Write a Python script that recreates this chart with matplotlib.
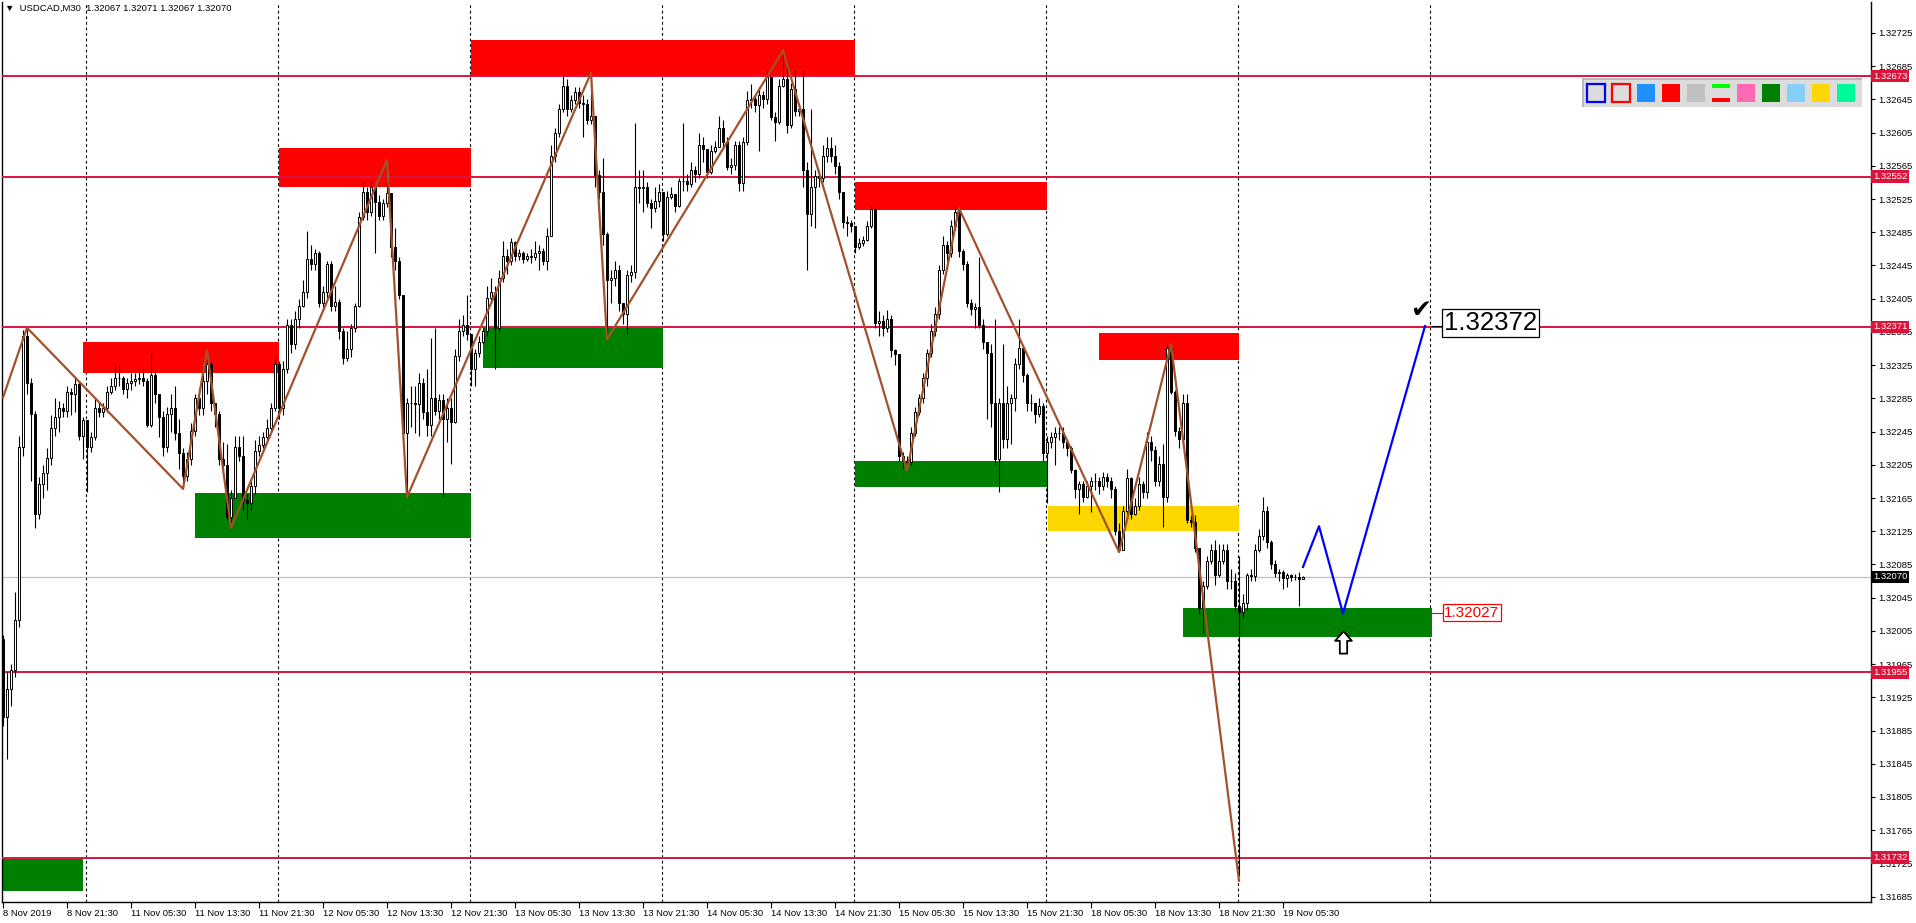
import numpy as np
import matplotlib
matplotlib.use("Agg")
import matplotlib.pyplot as plt
from matplotlib.patches import Rectangle
from matplotlib.path import Path

plt.rcParams['font.family'] = ['Liberation Sans', 'DejaVu Sans']

# USDCAD M30, 8 Nov 13:30 .. 19 Nov 06:00, prices in points above 1.32000
open0 = -5
close_pts = [
    -99, -65, -42, 18, 226, 360, 303, 266, 146, 182,
    195, 213, 249, 263, 273, 270, 293, 290, 302, 240,
    259, 226, 239, 273, 268, 273, 293, 300, 309, 310,
    296, 303, 306, 308, 310, 306, 253, 313, 290, 263,
    226, 266, 273, 243, 219, 192, 212, 246, 286, 273,
    306, 326, 279, 266, 212, 205, 142, 165, 226, 216,
    162, 159, 179, 222, 229, 239, 249, 273, 326, 273,
    320, 373, 350, 380, 396, 413, 453, 447, 460, 400,
    413, 447, 396, 401, 366, 333, 345, 370, 396, 503,
    534, 510, 540, 522, 504, 520, 532, 467, 450, 410,
    243, 280, 279, 278, 303, 269, 253, 286, 270, 283,
    260, 273, 256, 336, 366, 373, 363, 320, 340, 353,
    366, 406, 413, 370, 430, 457, 450, 473, 457, 460,
    453, 456, 455, 460, 463, 450, 480, 577, 604, 634,
    661, 634, 644, 654, 641, 640, 620, 625, 554, 534,
    483, 427, 430, 440, 400, 387, 433, 437, 540, 538,
    540, 520, 514, 523, 533, 483, 527, 531, 517, 547,
    547, 543, 560, 555, 590, 585, 557, 583, 588, 610,
    594, 564, 566, 590, 544, 594, 644, 646, 638, 650,
    645, 672, 624, 618, 661, 670, 614, 657, 631, 634,
    560, 507, 540, 553, 550, 577, 587, 577, 565, 534,
    497, 496, 493, 467, 472, 476, 493, 513, 376, 378,
    370, 380, 343, 338, 216, 210, 208, 243, 269, 286,
    309, 340, 366, 386, 440, 470, 460, 493, 510, 463,
    447, 400, 393, 395, 373, 353, 340, 279, 212, 279,
    236, 279, 286, 326, 346, 313, 279, 279, 266, 276,
    219, 232, 239, 243, 243, 232, 225, 199, 176, 182,
    166, 180, 185, 186, 179, 190, 185, 176, 125, 102,
    149, 189, 146, 155, 182, 172, 232, 223, 186, 206,
    166, 346, 293, 246, 236, 279, 139, 136, 105, 32,
    59, 89, 102, 72, 89, 102, 65, 65, 35, 28,
    39, 72, 71, 102, 119, 149, 112, 85, 75, 76,
    69, 72, 70, 70, 68, 70,
]
high_pts = [
    0, -45, -35, 52, 240, 367, 370, 310, 270, 190,
    205, 225, 265, 286, 282, 280, 300, 298, 310, 305,
    262, 235, 245, 285, 280, 280, 300, 310, 326, 325,
    312, 310, 315, 315, 318, 320, 310, 340, 320, 285,
    270, 275, 290, 300, 260, 225, 220, 255, 290, 298,
    315, 343, 330, 280, 270, 232, 230, 175, 240, 240,
    240, 170, 185, 235, 240, 245, 260, 280, 335, 330,
    330, 380, 380, 390, 405, 428, 487, 470, 465, 462,
    420, 450, 450, 420, 405, 370, 366, 375, 400, 510,
    547, 540, 547, 530, 530, 525, 572, 525, 490, 455,
    410, 285, 300, 300, 316, 310, 320, 358, 370, 290,
    290, 285, 285, 345, 380, 385, 410, 330, 345, 360,
    370, 420, 430, 420, 440, 475, 465, 478, 475, 465,
    462, 460, 465, 475, 470, 466, 490, 590, 610, 640,
    674, 670, 650, 660, 660, 650, 645, 677, 625, 560,
    575, 485, 440, 450, 445, 400, 440, 445, 617, 560,
    560, 545, 525, 540, 543, 510, 535, 540, 530, 550,
    617, 555, 570, 565, 605, 600, 585, 590, 595, 625,
    620, 600, 575, 595, 595, 600, 655, 664, 650, 660,
    655, 680, 670, 630, 670, 704, 690, 665, 680, 640,
    680, 570, 634, 560, 560, 590, 600, 600, 590, 570,
    520, 505, 500, 480, 478, 480, 498, 518, 516, 390,
    385, 392, 385, 345, 330, 220, 215, 250, 275, 290,
    315, 345, 375, 395, 445, 480, 475, 500, 515, 514,
    465, 450, 405, 400, 455, 380, 350, 350, 380, 285,
    350, 300, 290, 333, 380, 340, 315, 290, 280, 285,
    280, 240, 245, 250, 250, 250, 235, 228, 200, 186,
    185, 185, 190, 195, 190, 196, 195, 190, 180, 135,
    155, 200, 190, 165, 190, 185, 245, 240, 228, 215,
    230, 350, 350, 295, 250, 290, 290, 145, 145, 105,
    65, 95, 110, 115, 110, 110, 110, 80, 75, 95,
    50, 75, 80, 110, 128, 166, 155, 115, 90, 80,
    78, 75, 74, 73, 76, 71,
]
low_pts = [
    -110, -149, -85, -50, 10, 215, 290, 185, 129, 140,
    165, 175, 205, 240, 245, 262, 262, 265, 268, 235,
    212, 172, 220, 235, 262, 262, 268, 290, 295, 300,
    290, 285, 295, 300, 302, 300, 250, 250, 280, 238,
    215, 220, 245, 235, 200, 176, 185, 205, 240, 265,
    265, 290, 270, 250, 205, 200, 138, 129, 165, 210,
    150, 140, 150, 170, 215, 225, 235, 245, 270, 260,
    265, 315, 340, 345, 370, 395, 406, 440, 440, 395,
    395, 405, 390, 390, 356, 326, 330, 335, 365, 395,
    500, 500, 505, 460, 500, 500, 515, 455, 440, 405,
    240, 166, 250, 243, 240, 260, 240, 240, 265, 260,
    166, 232, 206, 255, 330, 360, 355, 300, 300, 335,
    350, 360, 400, 320, 365, 425, 435, 445, 450, 452,
    448, 450, 448, 452, 440, 445, 440, 480, 570, 600,
    630, 625, 630, 640, 635, 600, 615, 615, 540, 525,
    470, 356, 400, 420, 390, 375, 362, 425, 430, 520,
    510, 515, 490, 510, 515, 475, 480, 525, 510, 515,
    535, 535, 540, 545, 550, 570, 550, 555, 580, 590,
    585, 560, 555, 560, 535, 535, 590, 635, 630, 583,
    635, 640, 620, 595, 615, 660, 605, 610, 625, 625,
    540, 440, 493, 490, 540, 545, 570, 570, 555, 525,
    490, 480, 485, 460, 465, 468, 475, 490, 370, 360,
    360, 365, 335, 325, 210, 200, 198, 205, 240, 265,
    280, 300, 335, 360, 380, 435, 450, 455, 488, 455,
    440, 395, 385, 370, 370, 345, 260, 250, 205, 172,
    225, 225, 230, 270, 320, 305, 270, 270, 255, 262,
    210, 159, 225, 205, 235, 225, 215, 195, 165, 146,
    160, 165, 148, 175, 170, 175, 178, 165, 120, 100,
    115, 140, 140, 145, 150, 165, 165, 210, 180, 180,
    130, 160, 290, 240, 225, 230, 135, 130, 100, 25,
    2, 55, 85, 60, 70, 85, 55, 55, 30, -290,
    20, 30, 65, 65, 100, 115, 105, 80, 70, 65,
    55, 58, 65, 66, 35, 67,
]

tick_bars = list(range(0, 321, 16))
tick_labels = ["8 Nov 2019", "8 Nov 21:30", "11 Nov 05:30", "11 Nov 13:30", "11 Nov 21:30",
               "12 Nov 05:30", "12 Nov 13:30", "12 Nov 21:30", "13 Nov 05:30", "13 Nov 13:30",
               "13 Nov 21:30", "14 Nov 05:30", "14 Nov 13:30", "14 Nov 21:30", "15 Nov 05:30",
               "15 Nov 13:30", "15 Nov 21:30", "18 Nov 05:30", "18 Nov 13:30", "18 Nov 21:30",
               "19 Nov 05:30"]
day_lines = [20.75, 68.75, 116.75, 164.75, 212.75, 260.75, 308.75, 356.75]
price_ticks = [1.31685 + 0.0004 * k for k in range(27)]

levels = [1.32673, 1.32552, 1.32371, 1.31955, 1.31732]
last_price = 1.32070

# zones: bar from, bar to, top pts, bottom pts
zones_red = [(20, 69, 353, 316), (69, 117, 587, 540), (117, 213, 716, 673),
             (213, 261, 546, 512), (274, 309, 364, 331)]
zones_green = [(48, 117, 171, 117), (120, 165, 370, 322), (213, 261.2, 210, 178),
               (295, 357.25, 32, -2), (-0.25, 20, -270, -308)]
zones_yellow = [(261.2, 309, 155, 125)]

zz_bars = [0, 6, 45, 51, 57, 96, 101, 147, 151, 195, 226, 239, 279, 292, 309]
zz_pts = [286, 370, 176, 343, 129, 572, 166, 677, 356, 704, 198, 514, 100, 350, -296]
proj_bars = [325, 329, 335, 355.5]
proj_pts = [82, 131, 26, 372]


def pr(v):
    return 1.32 + np.asarray(v, dtype=float) * 1e-5


W, H = 1916, 923
fig = plt.figure(figsize=(W / 100, H / 100), dpi=100)
ax = fig.add_axes([2 / W, (H - 902) / H, 1869 / W, 900 / H])
ax.set_xlim(-0.25, 467)
ax.set_ylim(pr(-321.5), pr(762.3))

for d in day_lines:
    ax.axvline(d, color="black", lw=0.8, ls=(0, (2.5, 2.5)), zorder=1)

for zs, col in ((zones_red, "#FF0000"), (zones_green, "#008000"), (zones_yellow, "#FFD700")):
    for x0, x1, t, b in zs:
        ax.add_patch(Rectangle((x0, pr(b)), x1 - x0, pr(t) - pr(b), fc=col, ec="none", zorder=2))

for lv in levels:
    ax.axhline(lv, color="#DC143C", lw=1.4, zorder=3)
ax.axhline(last_price, color="#C0C0C0", lw=0.9, zorder=1.5)

# candles
C = np.array(close_pts, dtype=float)
O = np.concatenate([[open0], C[:-1]])
Hh = np.maximum(np.array(high_pts, dtype=float), np.maximum(O, C))
Ll = np.minimum(np.array(low_pts, dtype=float), np.minimum(O, C))
x = np.arange(len(C))
ax.vlines(x, pr(Ll), pr(Hh), color="black", lw=0.8, zorder=4)
up = C >= O
bot = np.minimum(O, C)
hgt = np.abs(C - O) * 1e-5
ax.bar(x[up], hgt[up], bottom=pr(bot[up]), width=0.55, color="white",
       edgecolor="black", lw=0.7, zorder=5)
ax.bar(x[~up], hgt[~up], bottom=pr(bot[~up]), width=0.55, color="black",
       edgecolor="black", lw=0.7, zorder=5)

ax.plot(zz_bars, pr(zz_pts), color="#A0522D", lw=1.6, zorder=6)
ax.plot(proj_bars, pr(proj_pts), color="#0000FF", lw=1.6, zorder=6)

# labels for projection
ax.plot([357.25, 359.75], [pr(372), pr(372)], color="black", lw=0.8, zorder=6)
ax.text(360.3, pr(376), "1.32372", fontsize=18.5, color="black", ha="left", va="center",
        bbox=dict(boxstyle="square,pad=0.08", fc="white", ec="black", lw=0.9), zorder=7)
ax.text(354.5, pr(392), "✔", fontsize=18, color="black", ha="center", va="center",
        family=["DejaVu Sans"], zorder=7)
ax.plot([357.25, 359.75], [pr(27), pr(27)], color="red", lw=0.8, zorder=6)
ax.text(360.3, pr(27), "1.32027", fontsize=11, color="red", ha="left", va="center",
        bbox=dict(boxstyle="square,pad=0.1", fc="white", ec="red", lw=0.9), zorder=7)

# hollow up arrow under the green zone
arrow_shape = Path([(0, 1), (0.75, 0.15), (0.33, 0.15), (0.33, -1), (-0.33, -1),
                    (-0.33, 0.15), (-0.75, 0.15), (0, 1)], closed=True)
ax.plot([335], [pr(-8)], marker=arrow_shape, markersize=16, mfc="white", mec="black",
        mew=1.3, ls="none", zorder=7)

# axes look
ax.spines["top"].set_visible(False)
for s in ("left", "right", "bottom"):
    ax.spines[s].set_linewidth(1.0)
ax.yaxis.tick_right()
ax.set_yticks(price_ticks)
ax.set_yticklabels(["%.5f" % p for p in price_ticks])
ax.tick_params(axis="y", direction="out", length=3, width=0.8, pad=2, labelsize=6.8)
ax.set_xticks(tick_bars)
ax.set_xticklabels(tick_labels)
ax.tick_params(axis="x", direction="out", length=4, width=0.8, pad=1, labelsize=6.8)
for lb in ax.get_xticklabels():
    lb.set_horizontalalignment("left")

for lv in levels:
    ax.annotate("%.5f" % lv, xy=(1, lv), xycoords=ax.get_yaxis_transform(),
                xytext=(1.5, 0), textcoords="offset points", ha="left", va="center",
                fontsize=6.8, color="white", annotation_clip=False, zorder=10,
                bbox=dict(boxstyle="square,pad=0.18", fc="#DC143C", ec="none"))
ax.annotate("%.5f" % last_price, xy=(1, last_price), xycoords=ax.get_yaxis_transform(),
            xytext=(1.5, 0), textcoords="offset points", ha="left", va="center",
            fontsize=6.8, color="white", annotation_clip=False, zorder=10,
            bbox=dict(boxstyle="square,pad=0.18", fc="black", ec="none"))

# header
fig.text(5 / W, 1 - 8 / H, "▼  USDCAD,M30  1.32067 1.32071 1.32067 1.32070",
         fontsize=6.8, ha="left", va="center", family=["Liberation Sans", "DejaVu Sans"])


# toolbar in the corner
def fr(px, py, w, h, **kw):
    fig.add_artist(Rectangle((px / W, 1 - (py + h) / H), w / W, h / H,
                             transform=fig.transFigure, **kw))


fr(1582, 78, 280, 29, fc="#DCDCDC", ec="none")
fr(1582, 78, 280, 2, fc="#B8B8B8", ec="none")
fr(1582, 78, 2, 29, fc="#B8B8B8", ec="none")
tool_colors = ["#DCDCDC", "#DCDCDC", "#1E90FF", "#FF0000", "#C0C0C0", None,
               "#FF69B4", "#008000", "#87CEFA", "#FFD700", "#00FA9A"]
for k, col in enumerate(tool_colors):
    x0 = 1587 + 25 * k
    if k == 0:
        fr(x0, 84, 18, 18, fc=col, ec="#0000FF", lw=1.6)
    elif k == 1:
        fr(x0, 84, 18, 18, fc=col, ec="#FF0000", lw=1.6)
    elif col is None:
        fr(x0, 84, 18, 4, fc="#00FF00", ec="none")
        fr(x0, 98, 18, 4, fc="#FF0000", ec="none")
    else:
        fr(x0, 84, 18, 18, fc=col, ec="none")

fig.savefig("out.png", dpi=100, facecolor="white")
